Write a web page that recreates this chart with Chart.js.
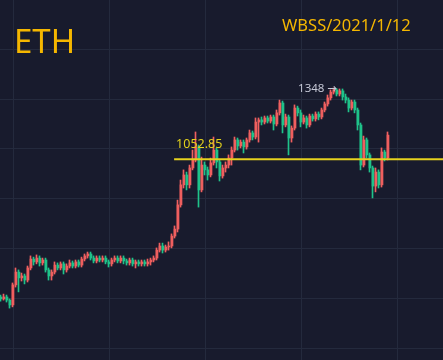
<!DOCTYPE html>
<html>
<head>
<meta charset="utf-8">
<script src="https://cdn.jsdelivr.net/npm/chart.js@4.4.1/dist/chart.umd.min.js"></script>
<style>
html, body { margin: 0; padding: 0; background: #181b2d; }
#wrap { width: 443px; height: 360px; }
</style>
</head>
<body>
<div id="wrap"><canvas id="eth-chart" width="443" height="360"></canvas></div>
<script>
var opens = [483,475,483,470,450,533,586,562,570,553, 603,640,628,644,624,636,595,570,586,615,
	603,620,595,611,624,611,628,615,640,653, 661,644,632,644,636,644,628,620,636,644,
	632,644,632,624,636,620,628,620,628,620, 628,636,644,677,694,677,690,694,735,764,
	864,947,988,947,1017,1050,1104,926,1029,1009, 988,1038,1091,1042,984,1017,1029,1058,1091,1133,
	1108,1124,1104,1133,1162,1145,1207,1216,1207,1224, 1211,1228,1199,1245,1286,1195,1228,1141,1182,1265,
	1245,1207,1224,1195,1232,1220,1240,1228,1257,1282, 1307,1331,1340,1323,1336,1311,1298,1265,1290,1257,
	1195,1029,1133,1071,1017,942,1000,947,1083,1058];
var highs = [491,495,491,475,541,603,595,582,578,611, 653,648,657,653,644,644,603,595,628,624,
	628,628,620,636,632,636,636,648,661,669, 669,653,653,653,653,653,636,644,653,653,
	653,653,640,644,644,636,636,636,636,640, 644,653,686,706,706,698,711,744,777,884,
	967,1009,1000,1029,1091,1166,1112,1062,1042,1021, 1058,1145,1100,1050,1029,1042,1071,1104,1145,1141,
	1133,1133,1141,1174,1170,1224,1224,1228,1232,1232, 1236,1236,1257,1298,1294,1240,1236,1191,1278,1273,
	1257,1236,1232,1240,1240,1249,1249,1265,1290,1319, 1340,1348,1346,1344,1344,1323,1307,1298,1298,1265,
	1203,1149,1141,1079,1025,1017,1009,1100,1091,1166];
var lows = [466,470,462,437,442,524,504,549,537,545, 595,615,620,611,615,586,553,553,578,595,
	595,578,586,603,603,603,607,607,632,644, 636,624,624,628,628,620,607,611,628,624,
	624,620,615,615,611,603,611,611,611,611, 615,628,636,669,665,669,677,686,727,752,
	855,934,926,934,1009,1042,855,918,988,967, 980,1029,1017,963,975,1000,1017,1029,1083,1091,
	1100,1079,1095,1124,1133,1137,1124,1195,1199,1203, 1203,1174,1191,1236,1162,1187,1071,1124,1174,1232,
	1187,1199,1182,1187,1211,1211,1216,1220,1249,1273, 1298,1323,1315,1315,1298,1286,1249,1257,1245,1174,
	1009,1021,1058,1000,893,918,934,938,1046,1050];
var closes = [475,483,470,450,533,586,562,570,553,603, 640,628,644,624,636,595,570,586,615,603,
	620,595,611,624,611,628,615,640,653,661, 644,632,644,636,644,628,620,636,644,632,
	644,632,624,636,620,628,620,628,620,628, 636,644,677,694,677,690,694,735,764,864,
	947,988,947,1017,1050,1104,926,1029,1009,988, 1038,1091,1042,984,1017,1029,1058,1091,1133,1108,
	1124,1104,1133,1162,1145,1207,1216,1207,1224,1211, 1228,1199,1245,1286,1195,1228,1141,1182,1265,1245,
	1207,1224,1195,1232,1220,1240,1228,1257,1282,1307, 1331,1340,1323,1336,1311,1298,1265,1290,1257,1195,
	1029,1133,1071,1017,942,1000,947,1083,1058,1153];

var markLevel = 1052.85;
var markFrom = 57.7;   // candle index where the level line begins
var xGrid = [4, 36, 68, 100, 132];
var yGrid = [1509, 1302, 1096, 889, 682, 475, 268];

var upColor = '#ef5f5f';
var downColor = '#1fc28a';
var gridColor = '#242a3d';

var bodies = [];
var wicks = [];
var colors = [];
for (var i = 0; i < opens.length; i++) {
	bodies.push({ x: i, y: [opens[i], closes[i]] });
	wicks.push({ x: i, y: [lows[i], highs[i]] });
	colors.push(closes[i] >= opens[i] ? upColor : downColor);
}

var slots = 443 / 3;

var annotations = {
	id: 'annotations',
	afterDatasetsDraw: function(chart) {
		var ctx = chart.ctx;
		var xs = chart.scales.x;
		var ys = chart.scales.y;
		var area = chart.chartArea;

		// level line
		var ly = ys.getPixelForValue(markLevel);
		ctx.save();
		ctx.strokeStyle = '#e6d21e';
		ctx.lineWidth = 2;
		ctx.beginPath();
		ctx.moveTo(xs.getPixelForValue(markFrom), ly);
		ctx.lineTo(area.right, ly);
		ctx.stroke();
		ctx.fillStyle = '#e3d21c';
		ctx.font = '12.5px "Noto Sans"';
		ctx.textAlign = 'left';
		ctx.textBaseline = 'alphabetic';
		ctx.fillText(markLevel.toFixed(2), xs.getPixelForValue(markFrom) + 2, ly - 11);

		// peak label
		var top = 0;
		for (var i = 1; i < highs.length; i++) {
			if (highs[i] > highs[top]) top = i;
		}
		ctx.fillStyle = '#c5c8d6';
		ctx.font = '11.5px "Noto Sans", "DejaVu Sans"';
		ctx.textAlign = 'right';
		ctx.fillText(highs[top] + ' \u2192', xs.getPixelForValue(top) + 3, ys.getPixelForValue(highs[top]) + 4);

		// titles
		ctx.fillStyle = '#f5b700';
		ctx.textAlign = 'left';
		ctx.font = '33px "Noto Sans"';
		ctx.fillText('ETH', 14, 53);
		ctx.font = '16.5px "Noto Sans"';
		ctx.fillText('WBSS/2021/1/12', 282, 31);
		ctx.restore();
	}
};

new Chart(document.getElementById('eth-chart'), {
	type: 'bar',
	data: {
		datasets: [{
			data: wicks,
			xAxisID: 'xw',
			backgroundColor: colors,
			barThickness: 1,
			grouped: false,
			borderWidth: 0
		}, {
			data: bodies,
			xAxisID: 'x',
			backgroundColor: colors,
			barThickness: 2,
			grouped: false,
			borderWidth: 0
		}]
	},
	options: {
		responsive: false,
		animation: false,
		devicePixelRatio: 1,
		layout: { padding: 0 },
		plugins: { legend: { display: false }, tooltip: { enabled: false } },
		scales: {
			x: {
				type: 'linear',
				min: -1 / 3,
				max: -1 / 3 + slots,
				offset: false,
				grid: { color: gridColor, drawTicks: false, offset: false },
				border: { display: false },
				ticks: { display: false },
				afterBuildTicks: function(s) {
					s.ticks = xGrid.map(function(v) { return { value: v }; });
				}
			},
			xw: {
				type: 'linear',
				display: false,
				min: -1 / 6,
				max: -1 / 6 + slots,
				offset: false
			},
			y: {
				min: 222.1,
				max: 1712.2,
				grid: { color: gridColor, drawTicks: false },
				border: { display: false },
				ticks: { display: false },
				afterBuildTicks: function(s) {
					s.ticks = yGrid.map(function(v) { return { value: v }; });
				}
			}
		}
	},
	plugins: [annotations]
});
</script>
</body>
</html>
